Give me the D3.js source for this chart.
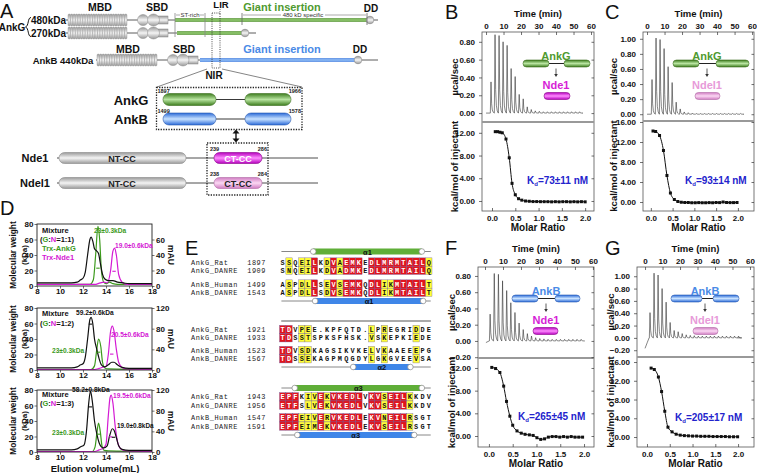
<!DOCTYPE html>
<html><head><meta charset="utf-8"><title>AnkG/AnkB NIR binds Nde1/Ndel1</title>
<script src="https://cdn.jsdelivr.net/npm/d3@7/dist/d3.min.js"></script>
<style>html,body{margin:0;padding:0;background:#fff}svg{display:block}</style></head>
<body><svg id="fig" width="757" height="473" xmlns="http://www.w3.org/2000/svg"></svg>
<script>
const FONT = "'Liberation Sans', Arial, Helvetica, sans-serif";
const MONO = "'Liberation Mono', 'Courier New', monospace";

// ===================== DATA =====================
// Panel A schematic (domain borders in drawing units)
const ankRows = ["480kDa", "270kDa", "AnkB 440kDa"];
const lineSpan = [[66, 378], [66, 256], [96, 378]];
const mbdSpan = [[68, 127], [68, 127], [97, 157]];
const sbdPos = [[143, 153.5, 158, 168], [143, 153.5, 158, 168], [173, 183, 188, 198]];
const insertSpan = [[175, 367], [177, 242], [200, 357]];
const ddPos = [370, 245, 358];
const nirNumbers = [["1897", "1966"], ["1499", "1578"]];
const ndeNames = ["Nde1", "Ndel1"];
const ndeNumbers = [["239", "286"], ["238", "284"]];

// ITC (B, C, F, G)
const timeTicks = [0, 10, 20, 30, 40, 50, 60];
const molarTicks = [0, 0.5, 1.0, 1.5, 2.0];
const injTimes = [2.6, 4.9, 7.2, 9.5, 11.8, 14.1, 16.4, 18.7, 21.0, 23.3, 25.6, 27.9, 30.2, 32.5, 34.8, 37.1, 39.4, 41.7, 44.0, 46.3, 48.6, 50.9, 53.2];
const peaksB = [0.35, 0.88, 0.87, 0.80, 0.76, 0.50, 0.41, 0.21, 0.16, 0.07, 0.04, 0.025, 0.02, 0.015, 0.015, 0.015, 0.015, 0.015, 0.015, 0.015, 0.015, 0.015, 0.015];
const peaksC = [0.46, 1.01, 0.99, 0.87, 0.63, 0.42, 0.16, 0.07, 0.03, 0.02, 0.015, 0.01, 0.01, 0.01, 0.01, 0.01, 0.01, 0.01, 0.01, 0.01, 0.01, 0.01, 0.01];
const peaksF = [0.33, 0.83, 0.82, 0.74, 0.62, 0.47, 0.35, 0.22, 0.14, 0.09, 0.06, 0.04, 0.03, 0.025, 0.02, 0.02, 0.02, 0.02, 0.02, 0.02, 0.02, 0.02, 0.02];
const peaksG = [0.41, 1.05, 1.02, 0.80, 0.58, 0.25, 0.12, 0.10, 0.07, 0.05, 0.04, 0.035, 0.03, 0.03, 0.03, 0.03, 0.03, 0.03, 0.03, 0.03, 0.03, 0.03, 0.03];
const baseB = [[0, 0]], baseC = [[0, 0]], baseF = [[0.5, -0.02], [2.3, 0]], baseG = [[0, -0.17], [1.2, -0.08], [2.3, 0]];
const molarB = [0.07, 0.12, 0.17, 0.22, 0.30, 0.37, 0.43, 0.50, 0.57, 0.64, 0.72, 0.80, 0.88, 0.96, 1.04, 1.12, 1.20, 1.28, 1.36, 1.44, 1.52, 1.60, 1.68, 1.76, 1.84, 1.92, 2.0];
const heatB = [12.2, 12.2, 12.1, 12.0, 10.9, 7.6, 3.1, 1.1, 0.4, 0.15, 0.0, -0.05, -0.1, -0.1, -0.12, -0.12, -0.12, -0.15, -0.12, -0.15, -0.12, -0.12, -0.15, -0.12, -0.15, -0.12, -0.15];
const molarC = [0.05, 0.11, 0.20, 0.29, 0.37, 0.45, 0.54, 0.62, 0.70, 0.78, 0.86, 0.94, 1.02, 1.10, 1.18, 1.26, 1.34, 1.42, 1.50, 1.58, 1.66, 1.74, 1.82, 1.90, 1.98];
const heatC = [14.2, 14.1, 13.3, 10.3, 5.3, 1.8, 0.5, 0.1, -0.05, -0.1, -0.1, -0.15, -0.15, -0.12, -0.15, -0.15, -0.12, -0.15, -0.1, -0.12, 0.0, -0.1, -0.12, -0.12, -0.1];
const molarF = [0.06, 0.14, 0.23, 0.31, 0.37, 0.44, 0.50, 0.59, 0.68, 0.76, 0.85, 0.93, 1.01, 1.09, 1.17, 1.25, 1.33, 1.41, 1.49, 1.57, 1.65, 1.73, 1.81, 1.89, 1.97];
const heatF = [12.1, 11.9, 11.2, 8.8, 6.1, 3.5, 1.9, 0.9, 0.5, 0.3, 0.2, 0.1, -0.3, -0.6, -0.5, -0.2, -0.1, -0.1, -0.2, -0.1, -0.2, -0.1, -0.2, -0.2, -0.2];
const molarG = [0.09, 0.16, 0.25, 0.32, 0.39, 0.46, 0.55, 0.64, 0.73, 0.82, 0.91, 1.0, 1.09, 1.18, 1.27, 1.36, 1.45, 1.54, 1.63, 1.72, 1.81, 1.90, 1.99];
const heatG = [14.7, 14.4, 12.8, 9.7, 5.5, 2.1, 1.1, 0.6, 0.4, 0.3, 0.25, 0.2, 0.2, 0.15, 0.15, 0.15, 0.1, 0.1, 0.1, 0.1, 0.05, 0.05, 0.05];
const kdLabels = ["=73\u00b111 nM", "=93\u00b114 nM", "=265\u00b145 nM", "=205\u00b117 nM"];

// Panel D: SEC-MALS (elution volume mL, mAU) and MW (kDa)
const volTicks = [8, 10, 12, 14, 16, 18];
const mwTicks = [0, 20, 40, 60, 80];
const sec1Black = [[8,4],[11,4],[11.5,5],[11.8,8],[12.0,10],[12.2,18],[12.4,40],[12.6,60],[12.7,63],[12.85,58],[13.0,48],[13.2,45],[13.35,42],[13.5,30],[13.7,15],[13.9,9],[14.2,7],[14.6,7],[15.0,5],[15.5,4],[16,3],[18,3]];
const sec1Green = [[8,2],[12.6,2],[12.9,8],[13.1,40],[13.3,77],[13.45,60],[13.6,20],[13.8,5],[14.0,3],[14.3,5],[14.6,3],[15,2],[18,2]];
const sec1Magenta = [[8,2],[13,2],[13.5,4],[13.8,5],[14.1,4],[14.4,20],[14.6,45],[14.75,49],[14.9,40],[15.1,15],[15.4,5],[15.8,2],[18,2]];
const sec2Black = [[8,4],[11,4],[11.5,6],[11.8,10],[12.0,12],[12.2,25],[12.4,60],[12.6,98],[12.7,102],[12.85,90],[13.0,60],[13.2,40],[13.4,22],[13.6,10],[13.9,6],[14.2,10],[14.5,15],[14.7,15],[15.0,10],[15.4,5],[16,3],[18,3]];
const sec2Green = [[8,1],[12.7,1],[13.0,8],[13.2,40],[13.35,60],[13.55,45],[13.7,15],[13.9,4],[14.2,2],[18,1]];
const sec2Magenta = [[8,1],[13,1],[13.4,3],[13.8,6],[14.0,7],[14.2,30],[14.4,75],[14.55,85],[14.7,75],[14.9,40],[15.1,15],[15.4,5],[15.8,2],[18,1]];
const sec3Black = [[8,4],[11,4],[11.5,6],[11.8,10],[12.1,14],[12.3,40],[12.5,95],[12.65,118],[12.8,100],[13.0,60],[13.2,35],[13.4,18],[13.6,10],[13.8,8],[14.1,12],[14.3,30],[14.55,45],[14.7,42],[14.9,28],[15.1,12],[15.4,5],[16,3],[18,3]];
const sec3Green = [[8,1],[12.8,1],[13.05,10],[13.2,35],[13.35,56],[13.5,40],[13.65,12],[13.85,3],[14.2,2],[18,1]];
const sec3Magenta = [[8,1],[13,1],[13.4,4],[13.8,8],[14.0,15],[14.2,70],[14.35,105],[14.45,110],[14.6,95],[14.8,50],[15.0,20],[15.3,6],[15.8,2],[18,1]];
const secMW1 = [[13.3, 23, "g"], [14.7, 19.0, "m"]];
const secMW2 = [[12.65, 59.2, "k"], [13.35, 23, "g"], [14.5, 20.5, "m"]];
const secMW3 = [[12.65, 58.2, "k"], [13.35, 23, "g"], [14.4, 19.5, "m"], [14.65, 19.0, "k"]];

// Panel E: sequence alignment
const seqNames = ["AnkG_Rat", "AnkG_DANRE", "AnkB_Human", "AnkB_DANRE"];
const seqStarts = [[1897, 1909, 1499, 1543], [1921, 1933, 1523, 1567], [1943, 1956, 1547, 1591]];
const seqs = [
  ["SSQEILKDVAEMKEDLMRMTAILQ", "SNQEILKDVADMKEDLMRMTAILQ", "ASPDLLSEVSEMKQDLIKMTAILT", "ASPDLLSDVSEMKQDLIKMTAILT"],
  ["TDVPEE.KPFQTD.LPREGRIDDE", "TDSSTSPKSFHSK.VSKEPKIEDE", "TDVSDKAGSIKVKELVKAAEEEPG", "TDSSEKAGPMQGDYLGKGVEEVSA"],
  ["EPFKIVEKVKEDLVKVSEILKKDV", "ETFSLVEKVKEDLVKVSEILKKDV", "EPFEIVERVKEDLEKVNEILRSGT", "EPFEIMEKVKEDLEKVSEILRSGT"]];
const seqCons = [
  [".y.yyr.yryrrr.rrrrrrrrry", ".y.yyr.yryrrr.rrrrrrrrry", ".y.yyr.yryrrr.rryyrrrrry", ".y.yyr.yryrrr.rryyrrrrry"],
  ["rr.yy.........y.y....y..", "rr.yy.........y.y....y..", "rr.yy.........y.y....y..", "rr.yy.........y.y....y.."],
  ["rrr.yyryrrrrr.rryrrry...", "rrr.yyryrrrrr.rryrrry...", "rrryyyryrrrrr.rryrrry...", "rrryyyryrrrrr.rryrrry..."]];
// helices in alignment-column units [start, end, label]  (top = AnkG, bottom = AnkB)
const helixTop = [[5.3, 22.4, "\u03b11"], null, [2.4, 22.4, "\u03b13"]];
const helixBot = [[5.6, 22.6, "\u03b11"], [11.6, 20.6, "\u03b12"], [2.8, 21.2, "\u03b13"]];

// ===================== DRAWING =====================
const svg = d3.select("#fig");
const defs = svg.append("defs");
function grad(id, edge, mid) {
  const g = defs.append("linearGradient").attr("id", id).attr("x1", 0).attr("y1", 0).attr("x2", 0).attr("y2", 1);
  [[0, edge], [0.5, mid], [1, edge]].forEach(s => g.append("stop").attr("offset", s[0]).attr("stop-color", s[1]));
}
grad("gGreen", "#3d7d1e", "#b8e4a0");
grad("gBlue", "#2b6ad8", "#c8e2ff");
grad("gMag", "#b400bc", "#ff8cff");
grad("gPink", "#d07cc2", "#fbd8f3");
grad("gGrey", "#9a9a9a", "#f4f4f4");
grad("gBarG", "#4f8f2c", "#9ad07a");
grad("gBarB", "#3a78de", "#9cc6f8");

function T(x, y, s, o = {}) {
  const t = svg.append("text").attr("x", x).attr("y", y)
    .attr("font-family", o.family || FONT).attr("font-size", o.size || 9)
    .attr("font-weight", o.weight || "bold").attr("fill", o.fill || "#111")
    .attr("text-anchor", o.anchor || "start").text(s);
  if (o.rotate) t.attr("transform", `rotate(${o.rotate},${x},${y})`);
  if (o.ls) t.attr("letter-spacing", o.ls);
  return t;
}
function L(x1, y1, x2, y2, stroke = "#222", w = 0.8, dash = null) {
  const l = svg.append("line").attr("x1", x1).attr("y1", y1).attr("x2", x2).attr("y2", y2).attr("stroke", stroke).attr("stroke-width", w);
  if (dash) l.attr("stroke-dasharray", dash);
  return l;
}
function capsule(x0, x1, yc, h, gid, stroke = "#555") {
  return svg.append("rect").attr("x", x0).attr("y", yc - h / 2).attr("width", x1 - x0).attr("height", h)
    .attr("rx", h / 2).attr("fill", `url(#${gid})`).attr("stroke", stroke).attr("stroke-width", 0.6);
}
const GREEN = "#4f9a2f", BLUE = "#4a8ae6", MAG = "#d61ed6", PINK = "#e79ad9", KDBLUE = "#2323cc";

// ---------- Panel A ----------
T(0, 17.5, "A", { size: 20, weight: "normal" });
const sx = d3.scaleLinear().domain([0, 380]).range([0, 380]);
const rowY = [20, 33, 60];
ankRows.forEach((name, i) => {
  const y = rowY[i];
  L(sx(lineSpan[i][0]), y, sx(lineSpan[i][1]), y, "#333", 0.8);
  const [m0, m1] = mbdSpan[i], n = 24, w = (sx(m1) - sx(m0)) / n;
  d3.range(n).forEach(k => svg.append("rect").attr("x", sx(m0) + k * w).attr("y", y - 6).attr("width", w).attr("height", 12)
    .attr("rx", w / 2).attr("fill", "url(#gGrey)").attr("stroke", "#8a8a8a").attr("stroke-width", 0.35));
  const s = sbdPos[i];
  svg.append("rect").attr("x", sx(s[2])).attr("y", y - 4).attr("width", sx(s[3]) - sx(s[2])).attr("height", 8).attr("fill", "url(#gGrey)").attr("stroke", "#888").attr("stroke-width", 0.5);
  svg.append("circle").attr("cx", sx(s[0])).attr("cy", y).attr("r", 5.5).attr("fill", "url(#gGrey)").attr("stroke", "#888").attr("stroke-width", 0.5);
  svg.append("circle").attr("cx", sx(s[1])).attr("cy", y).attr("r", 6).attr("fill", "url(#gGrey)").attr("stroke", "#888").attr("stroke-width", 0.5);
  svg.append("rect").attr("x", sx(insertSpan[i][0])).attr("y", y - 1.8).attr("width", sx(insertSpan[i][1]) - sx(insertSpan[i][0])).attr("height", 3.6)
    .attr("fill", i < 2 ? "url(#gBarG)" : "url(#gBarB)");
  svg.append("circle").attr("cx", sx(ddPos[i])).attr("cy", y).attr("r", 3.8).attr("fill", "url(#gGrey)").attr("stroke", "#777").attr("stroke-width", 0.5);
});
T(100, 11, "MBD", { size: 10.5, anchor: "middle" });
T(157, 11, "SBD", { size: 10.5, anchor: "middle" });
T(282, 10.5, "Giant insertion", { size: 11, anchor: "middle", fill: GREEN });
T(371, 11.5, "DD", { size: 10, anchor: "middle" });
T(221, 7.5, "LIR", { size: 9.5, anchor: "middle" });
L(220, 9, 220, 14, "#333", 0.7, "1,1");
T(12, 31, "AnkG", { size: 10, anchor: "middle" });
svg.append("path").attr("d", "M31,17.5 C27.5,17.5 29,26 25.5,27 C29,28 27.5,36.5 31,36.5").attr("fill", "none").attr("stroke", "#111").attr("stroke-width", 1);
T(48.5, 23.8, "480kDa", { size: 10, anchor: "middle" });
T(48.5, 37, "270kDa", { size: 10, anchor: "middle" });
T(63, 63.8, "AnkB 440kDa", { size: 9.5, anchor: "middle" });
T(128, 53, "MBD", { size: 10.5, anchor: "middle" });
T(184, 53, "SBD", { size: 10.5, anchor: "middle" });
T(282, 53, "Giant insertion", { size: 11, anchor: "middle", fill: BLUE });
T(360, 53, "DD", { size: 10, anchor: "middle" });
[175, 205].forEach(x => L(x, 13, x, 37, "#888", 0.8));
[242, 367].forEach(x => L(x, 13, x, 25, "#666", 0.8));
T(190, 17, "ST-rich", { size: 6, weight: "normal", anchor: "middle", fill: "#333" });
L(176, 15, 180, 15, "#555", 0.5); L(200, 15, 204, 15, "#555", 0.5);
T(303, 17, "480 kD specific", { size: 6, weight: "normal", anchor: "middle", fill: "#333" });
L(243, 15, 281, 15, "#555", 0.5); L(325, 15, 366, 15, "#555", 0.5);
svg.append("rect").attr("x", 212).attr("y", 13).attr("width", 8).attr("height", 55).attr("fill", "none").attr("stroke", "#222").attr("stroke-width", 0.8).attr("stroke-dasharray", "1,1.2");
T(214, 79, "NIR", { size: 10, anchor: "middle" });
L(207, 69, 157, 87, "#333", 0.6); L(222, 69, 302, 87, "#333", 0.6);
svg.append("rect").attr("x", 156.5).attr("y", 87.5).attr("width", 145.5).attr("height", 42).attr("fill", "none").attr("stroke", "#222").attr("stroke-width", 1.3).attr("stroke-dasharray", "1.3,1.3");
[["AnkG", 99.5, "gGreen", "#3d6d20"], ["AnkB", 119, "gBlue", "#2a5ab0"]].forEach((d, i) => {
  T(131, d[1] + 5, d[0], { size: 13, anchor: "middle" });
  L(216, d[1], 245, d[1], "#222", 0.9);
  capsule(163, 216, d[1], 12, d[2], d[3]);
  capsule(245, 291, d[1], 12, d[2], d[3]);
  T(157.5, d[1] - 6.5, nirNumbers[i][0], { size: 5.5, fill: "#222" });
  T(301, d[1] - 6.5, nirNumbers[i][1], { size: 5.5, anchor: "end", fill: "#222" });
});
L(236, 133, 236, 139, "#111", 1.4);
svg.append("path").attr("d", "M232.5,133.5 L236,129.5 L239.5,133.5 Z M232.5,138.5 L236,142.5 L239.5,138.5 Z").attr("fill", "#111");
svg.append("rect").attr("x", 207).attr("y", 143).attr("width", 61).attr("height", 52).attr("fill", "none").attr("stroke", "#222").attr("stroke-width", 1.3).attr("stroke-dasharray", "1.3,1.3");
ndeNames.forEach((name, i) => {
  const y = [158, 183][i];
  T(35, y + 4, name, { size: 11, anchor: "middle" });
  L(57, y, 318, y, "#222", 0.8);
  capsule(59, 186, y, 11, "gGrey", "#888");
  T(122, y + 3.5, "NT-CC", { size: 9, anchor: "middle", fill: "#222" });
  capsule(214, 262, y, 11, i === 0 ? "gMag" : "gPink", i === 0 ? "#8a008a" : "#b06aa5");
  T(238, y + 3.5, "CT-CC", { size: 9, anchor: "middle", fill: i === 0 ? "#fff" : "#222" });
  T(210, y - 7.5, ndeNumbers[i][0], { size: 5.5, fill: "#222" });
  T(267, y - 7.5, ndeNumbers[i][1], { size: 5.5, anchor: "end", fill: "#222" });
});

// ---------- ITC panels ----------
const spikeShape = [[-0.15, 0], [0.25, 1], [0.6, 0.3], [1.0, 0.1], [1.5, 0.03], [2.1, 0]];
function axStyle(g, size) {
  g.select(".domain").remove();
  g.selectAll("line").attr("stroke", "#333").attr("stroke-width", 0.7);
  g.selectAll("text").attr("font-family", FONT).attr("font-weight", "bold").attr("font-size", size).attr("fill", "#111");
  return g;
}
function itc(o) {
  const tx = d3.scaleLinear().domain(o.tDom).range([o.x0, o.x1]);
  const mx = d3.scaleLinear().domain(o.mDom).range([o.x0, o.x1]);
  const py = d3.scaleLinear().domain(o.pDom).range([o.ySep, o.yTop]);
  const hy = d3.scaleLinear().domain(o.hDom).range([o.yBot, o.ySep]);
  const pts = o.base.slice();
  injTimes.forEach((t, i) => spikeShape.forEach(s => pts.push([t + s[0], s[1] * o.peaks[i]])));
  pts.push([o.tEnd, 0]);
  svg.append("path").attr("d", d3.line().x(d => tx(d[0])).y(d => py(d[1]))(pts))
    .attr("fill", "none").attr("stroke", "#333").attr("stroke-width", 0.6).attr("stroke-linejoin", "round");
  svg.append("rect").attr("x", o.x0).attr("y", o.yTop).attr("width", o.x1 - o.x0).attr("height", o.yBot - o.yTop)
    .attr("fill", "none").attr("stroke", "#555").attr("stroke-width", 0.8);
  L(o.x0, o.ySep, o.x1, o.ySep, "#999", 1.8);
  axStyle(svg.append("g").attr("transform", `translate(0,${o.yTop})`).call(d3.axisTop(tx).tickValues(timeTicks).tickSize(-3).tickPadding(3)), 8);
  axStyle(svg.append("g").attr("transform", `translate(${o.x0},0)`).call(d3.axisLeft(py).tickValues(o.pTicks).tickFormat(d3.format(".2f")).tickSize(3).tickPadding(4)), 8);
  axStyle(svg.append("g").attr("transform", `translate(${o.x0},0)`).call(d3.axisLeft(hy).tickValues(o.hTicks).tickFormat(d3.format(".2f")).tickSize(3).tickPadding(4)), 8);
  axStyle(svg.append("g").attr("transform", `translate(0,${o.yBot})`).call(d3.axisBottom(mx).tickValues(molarTicks).tickFormat(d3.format(".1f")).tickSize(-3).tickPadding(4)), 8);
  axStyle(svg.append("g").attr("transform", `translate(${o.x1},0)`).call(d3.axisLeft(py).tickValues(o.pTicks).tickFormat("").tickSize(2.5)), 8);
  axStyle(svg.append("g").attr("transform", `translate(${o.x1},0)`).call(d3.axisLeft(hy).tickValues(o.hTicks).tickFormat("").tickSize(2.5)), 8);
  const data = o.mr.map((m, i) => [m, o.heat[i]]);
  svg.append("path").attr("d", d3.line().x(d => mx(d[0])).y(d => hy(d[1])).curve(d3.curveMonotoneX)(data))
    .attr("fill", "none").attr("stroke", "#111").attr("stroke-width", 1);
  svg.append("g").selectAll("rect").data(data).join("rect")
    .attr("x", d => mx(d[0]) - 1.5).attr("y", d => hy(d[1]) - 1.5).attr("width", 3).attr("height", 3).attr("fill", "#111");
  const xc = (o.x0 + o.x1) / 2;
  T(xc, o.yTop - 15, "Time (min)", { size: 9.5, anchor: "middle" });
  T(xc, o.yBot + 19.5, "Molar Ratio", { size: 10, anchor: "middle" });
  T(o.labX, (o.yTop + o.ySep) / 2, "\u00b5cal/sec", { size: 9.5, anchor: "middle", rotate: -90 });
  T(o.labX, (o.ySep + o.yBot) / 2, "kcal/mol of injectant", { size: 9.5, anchor: "middle", rotate: -90 });
  T(o.letter[0], o.letter[1], o.letter[2], { size: 20, weight: "normal" });
  const k = T(o.kd[0], o.kd[1], "K", { size: 10, fill: KDBLUE });
  k.append("tspan").attr("font-size", 6).attr("dy", 2).text("d");
  k.append("tspan").attr("dy", -2).text(o.kd[2]);
  const s = o.inset;
  L(s.L[1], s.y, s.R[0], s.y, "#222", 1);
  capsule(s.L[0], s.L[1], s.y, 7, s.grad, s.gStroke);
  capsule(s.R[0], s.R[1], s.y, 7, s.grad, s.gStroke);
  T(s.cx, s.y - 4, s.name, { size: 11, anchor: "middle", fill: s.nameColor });
  L(s.cx, s.y + 5, s.cx, s.y + 11, "#333", 0.8);
  svg.append("path").attr("d", `M${s.cx - 1.8},${s.y + 10.5} L${s.cx},${s.y + 13.5} L${s.cx + 1.8},${s.y + 10.5} Z`).attr("fill", "#333");
  T(s.cx, s.y + 25.5, s.partner, { size: 11, anchor: "middle", fill: s.partnerColor });
  capsule(s.P[0], s.P[1], s.y + 32.5, 7, s.pGrad, s.pStroke);
}
const insetAnkG = { grad: "gGreen", gStroke: "#3d6d20", name: "AnkG", nameColor: GREEN };
const insetAnkB = { grad: "gBlue", gStroke: "#2a5ab0", name: "AnkB", nameColor: BLUE };
const withNde1 = { partner: "Nde1", partnerColor: MAG, pGrad: "gMag", pStroke: "#8a008a" };
const withNdel1 = { partner: "Ndel1", partnerColor: PINK, pGrad: "gPink", pStroke: "#b06aa5" };
itc({ x0: 482, x1: 594, yTop: 32, ySep: 122, yBot: 211, tDom: [-2.3, 61.7], mDom: [-0.215, 2.19], pDom: [-0.10, 0.91], hDom: [-1.76, 13.9],
  pTicks: [0, 0.2, 0.4, 0.6, 0.8], hTicks: [0, 4, 8, 12], peaks: peaksB, base: baseB, tEnd: 55, mr: molarB, heat: heatB, labX: 458,
  letter: [445, 19, "B"], kd: [527, 184, kdLabels[0]],
  inset: Object.assign({ L: [523, 549], R: [564, 590], y: 63.5, cx: 556, P: [544, 570] }, insetAnkG, withNde1) });
itc({ x0: 643, x1: 754, yTop: 32, ySep: 121, yBot: 211, tDom: [-2.3, 61.1], mDom: [-0.18, 2.37], pDom: [-0.09, 1.09], hDom: [-1.8, 16.2],
  pTicks: [0, 0.2, 0.4, 0.6, 0.8, 1.0], hTicks: [0, 4, 8, 12, 16], peaks: peaksC, base: baseC, tEnd: 55, mr: molarC, heat: heatC, labX: 617,
  letter: [605, 19, "C"], kd: [685, 184, kdLabels[1]],
  inset: Object.assign({ L: [673, 699], R: [716, 749], y: 63.5, cx: 707, P: [695, 720] }, insetAnkG, withNdel1) });
itc({ x0: 478, x1: 594, yTop: 267, ySep: 358, yBot: 447, tDom: [-3.9, 60.6], mDom: [-0.23, 2.21], pDom: [-0.21, 0.91], hDom: [-1.94, 13.76],
  pTicks: [-0.2, 0, 0.2, 0.4, 0.6, 0.8], hTicks: [0, 4, 8, 12], peaks: peaksF, base: baseF, tEnd: 55, mr: molarF, heat: heatF, labX: 455,
  letter: [445, 255, "F"], kd: [518, 420, kdLabels[2]],
  inset: Object.assign({ L: [512, 538], R: [555, 580], y: 298.5, cx: 546, P: [533, 558] }, insetAnkB, withNde1) });
itc({ x0: 637, x1: 754, yTop: 267, ySep: 357, yBot: 447, tDom: [-4.6, 62.3], mDom: [-0.22, 2.35], pDom: [-0.31, 1.15], hDom: [-2.13, 17.07],
  pTicks: [-0.2, 0, 0.2, 0.4, 0.6, 0.8, 1.0], hTicks: [0, 4, 8, 12, 16], peaks: peaksG, base: baseG, tEnd: 53, mr: molarG, heat: heatG, labX: 614,
  letter: [605, 255, "G"], kd: [675, 421, kdLabels[3]],
  inset: Object.assign({ L: [671, 702], R: [713, 739], y: 298.5, cx: 705, P: [693, 718] }, insetAnkB, withNdel1) });

// ---------- Panel D ----------
T(0, 215, "D", { size: 20, weight: "normal" });
const secColors = { k: "#111", g: "#3c9a1c", m: "#d41ad4" };
function sec(o) {
  const x = d3.scaleLinear().domain([8, 18]).range([37, 152]);
  const yl = d3.scaleLinear().domain([0, 80]).range([o.yb, o.yt]);
  const yr = d3.scaleLinear().domain([0, o.rMax]).range([o.yb, o.yt]);
  const line = d3.line().x(d => x(d[0])).y(d => yr(d[1])).curve(d3.curveMonotoneX);
  [[o.green, "g"], [o.magenta, "m"], [o.black, "k"]].forEach(c =>
    svg.append("path").attr("d", line(c[0])).attr("fill", "none").attr("stroke", secColors[c[1]]).attr("stroke-width", 1.2));
  o.mw.forEach(d => L(x(d[0] - 0.15), yl(d[1]), x(d[0] + 0.15), yl(d[1]), secColors[d[2]], 1.1));
  svg.append("rect").attr("x", 37).attr("y", o.yt).attr("width", 115).attr("height", o.yb - o.yt).attr("fill", "none").attr("stroke", "#222").attr("stroke-width", 0.9);
  axStyle(svg.append("g").attr("transform", `translate(37,0)`).call(d3.axisLeft(yl).tickValues(mwTicks).tickSize(2.5).tickPadding(1)), 8);
  axStyle(svg.append("g").attr("transform", `translate(152,0)`).call(d3.axisRight(yr).tickValues(o.rTicks).tickSize(2.5).tickPadding(1.5)), 8);
  axStyle(svg.append("g").attr("transform", `translate(0,${o.yb})`).call(d3.axisBottom(x).tickValues(volTicks).tickSize(2.5).tickPadding(0)), 8);
  const yc = (o.yt + o.yb) / 2;
  T(16, yc, "Molecular weight", { size: 8.3, anchor: "middle", rotate: -90 });
  T(26.5, yc, "(kDa)", { size: 8, anchor: "middle", rotate: -90 });
  T(167.5, yc, "mAU", { size: 8.5, anchor: "middle", rotate: 90 });
  o.labels.forEach(l => T(l[0], l[1], l[2], { size: l[4] || 6.6, fill: secColors[l[3]] }));
  const r = T(40, o.ratioY, "(", { size: 7.5 });
  r.append("tspan").attr("fill", secColors.g).text("G");
  r.append("tspan").text(":");
  r.append("tspan").attr("fill", secColors.m).text("N");
  r.append("tspan").text("=" + o.ratio + ")");
}
sec({ yt: 224, yb: 286, rMax: 80, rTicks: [0, 20, 40, 60], black: sec1Black, green: sec1Green, magenta: sec1Magenta, mw: secMW1, ratio: "1:1", ratioY: 241.5,
  labels: [[42, 232.5, "Mixture", "k", 7.5], [42, 250.5, "Trx-AnkG", "g", 7.5], [42, 259.5, "Trx-Nde1", "m", 7.5], [94, 232.5, "23\u00b10.3kDa", "g"], [115, 248, "19.0\u00b10.6kDa", "m"]] });
sec({ yt: 308, yb: 370, rMax: 120, rTicks: [0, 40, 80, 120], black: sec2Black, green: sec2Green, magenta: sec2Magenta, mw: secMW2, ratio: "1:2", ratioY: 325.5,
  labels: [[42, 316, "Mixture", "k", 7.5], [76, 314.5, "59.2\u00b10.6kDa", "k"], [111, 336.5, "20.5\u00b10.6kDa", "m"], [52, 352.5, "23\u00b10.3kDa", "g"]] });
sec({ yt: 390, yb: 452, rMax: 120, rTicks: [0, 40, 80, 120], black: sec3Black, green: sec3Green, magenta: sec3Magenta, mw: secMW3, ratio: "1:3", ratioY: 405.5,
  labels: [[42, 397, "Mixture", "k", 7.5], [72, 392, "58.2\u00b10.8kDa", "k"], [113, 398, "19.5\u00b10.6kDa", "m"], [117, 428, "19.0\u00b10.8kDa", "k", 6.4], [52, 434.5, "23\u00b10.3kDa", "g"]] });
T(95, 471.5, "Elution volume(mL)", { size: 9.5, anchor: "middle" });

// ---------- Panel E ----------
T(185, 255, "E", { size: 20, weight: "normal" });
const col = d3.scaleLinear().domain([0, 24]).range([279.5, 432]);
const cw = col(1) - col(0);
const rowCenters = [[262, 270.3, 284, 292.3], [329.5, 337.8, 350.5, 358.8], [396.8, 405.1, 417.8, 426.1]];
const barTopY = [251.5, 321, 388], barBotY = [301, 367, 435];
const cellFill = { r: "#e3141b", y: "#ffff38" };
function helix(h, y, grad) {
  L(col(0.3), y, col(23.8), y, "#888", 1);
  if (!h) { L(col(0.3), y, col(23.8), y, "#aaa", 2); return; }
  svg.append("rect").attr("x", col(h[0])).attr("y", y - 3).attr("width", col(h[1]) - col(h[0])).attr("height", 6).attr("fill", grad);
  [h[0], h[1]].forEach(c => svg.append("circle").attr("cx", col(c)).attr("cy", y).attr("r", 2.8).attr("fill", "#fff").attr("stroke", "#888").attr("stroke-width", 0.7));
  T((col(h[0]) + col(h[1])) / 2, y + 3, h[2], { size: 7.5, anchor: "middle", fill: "#111" });
}
seqs.forEach((block, b) => {
  helix(helixTop[b], barTopY[b], "#5fae38");
  helix(helixBot[b], barBotY[b], "#3f86e8");
  block.forEach((s, r) => {
    const y = rowCenters[b][r];
    T(191, y + 2.5, seqNames[r], { size: 6.9, weight: "normal", family: MONO, fill: "#222", ls: 0.55 });
    T(266, y + 2.5, String(seqStarts[b][r]), { size: 6.9, weight: "normal", family: MONO, fill: "#222", anchor: "end", ls: 0.55 });
    s.split("").forEach((ch, i) => {
      const c = seqCons[b][r][i];
      if (c !== ".") svg.append("rect").attr("x", col(i)).attr("y", y - 4.15).attr("width", cw).attr("height", 8.3)
        .attr("fill", cellFill[c]).attr("stroke", "#6a5aa0").attr("stroke-width", 0.35);
      T(col(i) + cw / 2, y + 2.5, ch, { size: 6.9, family: MONO, anchor: "middle", fill: c === "r" ? "#fff" : "#111" });
    });
  });
});
</script></body></html>
